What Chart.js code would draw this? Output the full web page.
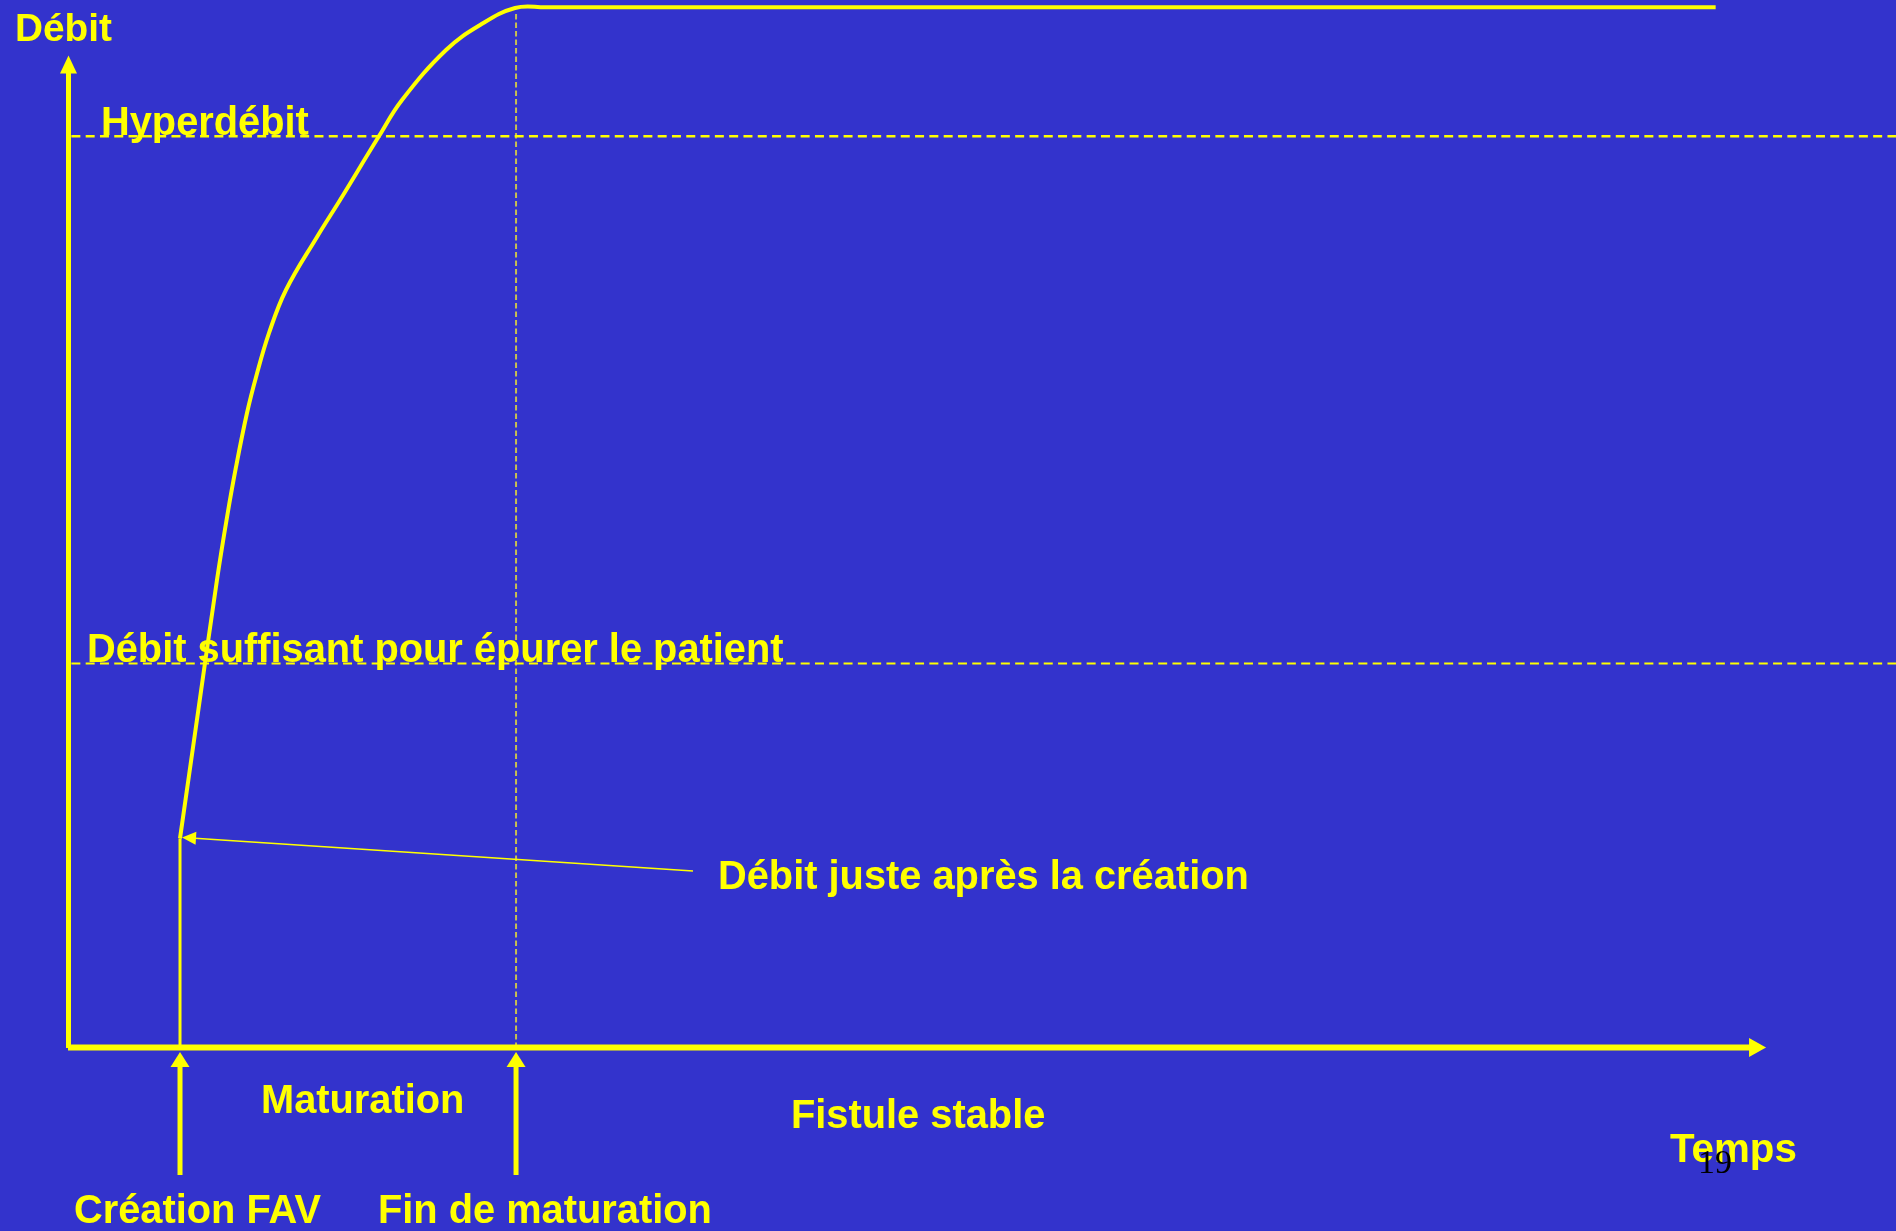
<!DOCTYPE html>
<html><head><meta charset="utf-8">
<script src="https://cdn.jsdelivr.net/npm/chart.js@4/dist/chart.umd.min.js"></script>
<style>
html,body{margin:0;padding:0;background:#3333cc;overflow:hidden;}
#wrap{width:1896px;height:1231px;position:relative;}
</style></head><body>
<div id="wrap"><canvas id="c"></canvas></div>
<script>
// ---- data (abstract units: time, flow) ----
const curveTime = [1, 1.165, 1.33, 1.42, 1.5, 1.598, 1.679, 1.795, 1.946, 2.223, 2.429, 2.777, 2.982, 3.375, 3.679, 3.991, 4.26, 14.71];
const curveFlow = [20, 32.35, 44.66, 50.67, 55.44, 60.59, 64.03, 68.23, 72.33, 77.39, 80.92, 87.02, 90.46, 95.23, 97.61, 99.24, 99.3, 99.3];
const creationTime = 1;
const maturationEndTime = 4;
const initialFlow = 20;
const sufficientFlow = 36.7;
const hyperFlow = 87;
const levelStart = 0.03;
const maturationGuideTop = 98.7;
const timeAxisEnd = 15.16;
const flowAxisEnd = 94.7;
const timeMax = 16.32;
const flowMax = 100;

const axisTitles = ['Débit', 'Temps'];
const levelLabels = ['Hyperdébit', 'Débit suffisant pour épurer le patient'];
const eventLabels = ['Création FAV', 'Fin de maturation'];
const phaseLabels = ['Maturation', 'Fistule stable'];
const annotationText = 'Débit juste après la création';
const pageNumber = '19';

const YEL = '#ffff00';
const BG = '#3333cc';

const curveData = curveTime.map((t, i) => ({x: t, y: curveFlow[i]}));

function arrow(ctx, x1, y1, x2, y2, lw, hl, hw) {
  const a = Math.atan2(y2 - y1, x2 - x1);
  const bx = x2 - Math.cos(a) * hl, by = y2 - Math.sin(a) * hl;
  ctx.save();
  ctx.strokeStyle = YEL; ctx.fillStyle = YEL; ctx.lineWidth = lw; ctx.lineCap = 'butt';
  ctx.beginPath(); ctx.moveTo(x1, y1); ctx.lineTo(bx + Math.cos(a) * 1, by + Math.sin(a) * 1); ctx.stroke();
  const px = -Math.sin(a) * hw / 2, py = Math.cos(a) * hw / 2;
  ctx.beginPath(); ctx.moveTo(x2, y2); ctx.lineTo(bx + px, by + py); ctx.lineTo(bx - px, by - py); ctx.closePath(); ctx.fill();
  ctx.restore();
}

const deco = {
  id: 'deco',
  beforeDraw(chart) {
    const ctx = chart.ctx;
    ctx.save(); ctx.fillStyle = BG; ctx.fillRect(0, 0, chart.width, chart.height); ctx.restore();
  },
  afterDraw(chart) {
    const ctx = chart.ctx, xs = chart.scales.x, ys = chart.scales.y;
    const x0 = xs.getPixelForValue(0), y0 = ys.getPixelForValue(0);
    // axes
    arrow(ctx, x0 + 0.5, y0, x0 + 0.5, ys.getPixelForValue(flowAxisEnd), 5, 18, 17);
    arrow(ctx, x0, y0 - 0.5, xs.getPixelForValue(timeAxisEnd), y0 - 0.5, 6, 17, 19);
    // event arrows
    [creationTime, maturationEndTime].forEach(t => {
      const px = xs.getPixelForValue(t);
      arrow(ctx, px, y0 + 127, px, y0 + 4, 5, 15, 19);
    });
    // annotation pointer
    const tx = 718, tb = 889;
    arrow(ctx, tx - 25, tb - 18, xs.getPixelForValue(creationTime) + 2, ys.getPixelForValue(initialFlow) - 1, 1.6, 14, 13);
    // texts
    ctx.save();
    ctx.fillStyle = YEL; ctx.textAlign = 'left'; ctx.textBaseline = 'alphabetic';
    const f = s => 'bold ' + s + 'px "Liberation Sans", Arial, sans-serif';
    ctx.font = f(38.8);
    ctx.fillText(axisTitles[0], 15, 41);
    ctx.font = f(39.8);
    ctx.fillText(levelLabels[0], 101, 135);
    ctx.fillText(levelLabels[1], 87, 662);
    ctx.fillText(annotationText, tx, tb);
    ctx.fillText(phaseLabels[0], 261, 1113);
    ctx.fillText(phaseLabels[1], 791, 1128);
    ctx.fillText(eventLabels[0], 74, 1223);
    ctx.fillText(eventLabels[1], 378, 1223);
    ctx.font = f(40.3);
    ctx.fillText(axisTitles[1], 1670, 1162);
    ctx.fillStyle = '#000000';
    ctx.font = '34px "Liberation Serif", "Times New Roman", serif';
    ctx.fillText(pageNumber, 1698, 1173);
    ctx.restore();
  }
};

new Chart(document.getElementById('c'), {
  type: 'scatter',
  data: {
    datasets: [
      {data: curveData, showLine: true, borderColor: YEL, borderWidth: 4, tension: 0.4, pointRadius: 0, order: 0, clip: false},
      {data: [{x: creationTime, y: 0}, {x: creationTime, y: initialFlow}], showLine: true, borderColor: YEL, borderWidth: 3, pointRadius: 0, order: 1, clip: false},
      {data: [{x: levelStart, y: hyperFlow}, {x: timeMax, y: hyperFlow}], showLine: true, borderColor: YEL, borderWidth: 2.5, borderDash: [9, 5.3], pointRadius: 0, order: 3, clip: false},
      {data: [{x: levelStart, y: sufficientFlow}, {x: timeMax, y: sufficientFlow}], showLine: true, borderColor: YEL, borderWidth: 2, borderDash: [9, 5.3], pointRadius: 0, order: 3, clip: false},
      {data: [{x: maturationEndTime, y: 0}, {x: maturationEndTime, y: maturationGuideTop}], showLine: true, borderColor: '#c8c050', borderWidth: 2, borderDash: [5.5, 3], pointRadius: 0, order: 4, clip: false}
    ]
  },
  options: {
    animation: false,
    responsive: true,
    maintainAspectRatio: false,
    devicePixelRatio: 1,
    layout: {padding: {left: 68, right: 0, top: 0, bottom: 183}},
    scales: {
      x: {type: 'linear', min: 0, max: timeMax, display: false},
      y: {type: 'linear', min: 0, max: flowMax, display: false}
    },
    plugins: {legend: {display: false}, tooltip: {enabled: false}},
    events: []
  },
  plugins: [deco]
});
</script>
</body></html>
